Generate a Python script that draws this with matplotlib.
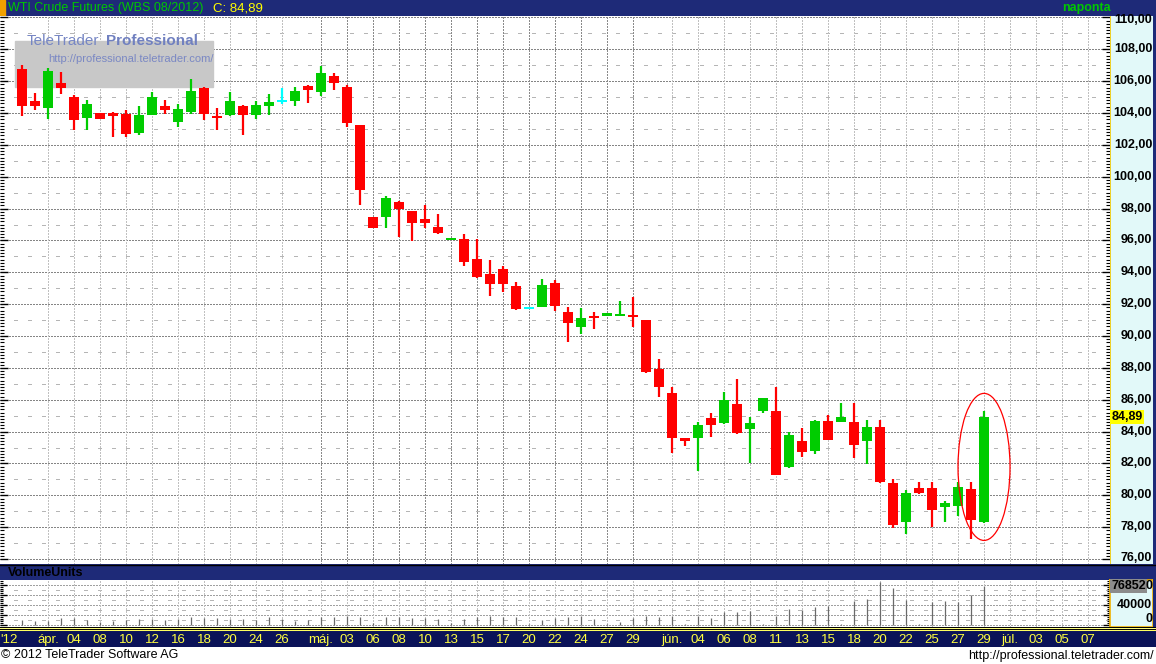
import matplotlib
matplotlib.use("Agg")
import matplotlib.pyplot as plt
from matplotlib.patches import Ellipse, Rectangle

plt.rcParams['font.family'] = ['Liberation Sans', 'DejaVu Sans']

# WTI Crude Futures (WBS 08/2012), napi gyertyák, olvasva a képről
opens = [106.76, 104.75, 104.33, 105.88, 105.00, 103.71, 104.00, 104.00, 103.94, 102.76,
         103.89, 104.44, 103.45, 104.08, 105.57, 103.83, 103.89, 104.44, 103.89, 104.46,
         104.75, 104.77, 105.70, 105.32, 106.32, 105.63, 103.25, 97.47, 97.47, 98.41,
         97.85, 97.35, 96.85, 96.03, 96.09, 94.84, 93.89, 94.21, 93.14, 91.75,
         91.82, 93.33, 91.51, 90.57, 91.26, 91.26, 91.26, 91.32, 91.00, 87.93,
         86.43, 83.60, 83.60, 84.86, 84.55, 85.74, 84.17, 85.30, 85.30, 81.78,
         83.41, 82.78, 84.67, 84.61, 84.61, 83.41, 84.30, 80.78, 78.33, 80.47,
         80.47, 79.28, 79.34, 80.40, 78.33]
highs = [107.00, 105.26, 106.80, 106.58, 105.13, 104.82, 104.00, 104.06, 104.19, 104.44,
         105.32, 104.82, 104.57, 106.14, 105.63, 104.31, 105.32, 104.50, 104.75, 105.19,
         105.57, 105.63, 105.76, 106.95, 106.51, 105.76, 103.25, 97.47, 98.79, 98.48,
         97.85, 98.23, 97.66, 96.15, 96.40, 96.09, 94.77, 94.40, 93.39, 91.75,
         93.58, 93.52, 91.82, 91.76, 91.51, 91.45, 92.20, 92.45, 91.00, 88.56,
         86.80, 83.60, 84.61, 85.17, 86.50, 87.31, 84.93, 86.12, 86.80, 83.98,
         84.23, 84.74, 85.05, 85.80, 85.80, 84.74, 84.74, 81.03, 80.34, 80.84,
         80.84, 79.66, 80.84, 80.84, 85.30]
lows = [103.83, 104.20, 103.62, 105.21, 102.95, 102.95, 103.64, 102.51, 102.51, 102.64,
        103.89, 103.96, 103.14, 103.96, 103.58, 102.95, 103.83, 102.64, 103.64, 103.89,
        104.58, 104.46, 104.65, 105.09, 105.45, 103.14, 98.25, 96.80, 96.80, 96.24,
        95.99, 96.80, 96.42, 96.03, 94.42, 93.64, 92.52, 92.77, 91.63, 91.75,
        91.82, 91.57, 89.62, 90.13, 90.45, 91.26, 91.26, 90.57, 87.68, 86.18,
        82.66, 83.10, 81.53, 83.67, 84.49, 83.86, 82.04, 85.17, 81.28, 81.72,
        82.41, 82.60, 83.48, 84.61, 82.35, 81.97, 80.78, 77.95, 77.57, 80.09,
        78.01, 78.33, 78.70, 77.26, 78.27]
closes = [104.46, 104.46, 106.64, 105.59, 103.58, 104.57, 103.64, 103.83, 102.70, 103.88,
          105.00, 104.21, 104.25, 105.38, 103.96, 103.71, 104.75, 103.89, 104.50, 104.69,
          104.75, 105.38, 105.45, 106.51, 105.88, 103.39, 99.17, 96.80, 98.67, 98.00,
          97.10, 97.10, 96.49, 96.15, 94.67, 93.71, 93.27, 93.27, 91.69, 91.75,
          93.20, 91.88, 90.84, 91.13, 91.13, 91.45, 91.39, 91.20, 87.74, 86.80,
          83.60, 83.41, 84.42, 84.42, 86.00, 83.92, 84.55, 86.12, 81.28, 83.80,
          82.72, 84.67, 83.48, 84.93, 83.16, 84.30, 80.84, 78.14, 80.15, 80.15,
          79.09, 79.53, 80.53, 78.45, 84.89]
volumes = [9300, 8000, 6700, 12700, 13300, 9300, 4700, 6700, 9300, 10700,
           11300, 9300, 11300, 14700, 12700, 12700, 11300, 11300, 9300, 14700,
           11300, 6700, 9300, 16000, 14700, 16700, 16000, 2700, 16000, 14700,
           12700, 12700, 11300, 2700, 11300, 14700, 18000, 14700, 14700, 2000,
           8700, 14000, 16000, 18000, 12000, 2000, 4700, 14000, 18000, 16000,
           16700, 2000, 16700, 14000, 24700, 24700, 27300, 2000, 18000, 32000,
           28700, 36000, 38000, 2000, 48000, 52000, 86000, 74000, 50000, 2000,
           44700, 48000, 46000, 60000, 76852]

date_labels = ["'12", "ápr.", "04", "08", "10", "12", "16", "18", "20", "24", "26",
               "máj.", "03", "06", "08", "10", "13", "15", "17", "20", "22", "24", "27", "29",
               "jún.", "04", "06", "08", "11", "13", "15", "18", "20", "22", "25", "27", "29",
               "júl.", "03", "05", "07"]
label_pos = [-1, 2, 4, 6, 8, 10, 12, 14, 16, 18, 20,
             23, 25, 27, 29, 31, 33, 35, 37, 39, 41, 43, 45, 47,
             50, 52, 54, 56, 58, 60, 62, 64, 66, 68, 70, 72, 74,
             76, 78, 80, 82]

W, H = 1156, 664
NAVY = '#1e2a78'
DARK_NAVY = '#0b1358'
PANEL = '#e2f9f9'

fig = plt.figure(figsize=(W / 100, H / 100), dpi=100)
fig.patch.set_facecolor('white')


def add_ax(x0, y0, x1, y1, **kw):
    ax = fig.add_axes([x0 / W, 1 - y1 / H, (x1 - x0) / W, (y1 - y0) / H], **kw)
    return ax


def bare(ax, color):
    ax.set_facecolor(color)
    ax.set_xticks([])
    ax.set_yticks([])
    for s in ax.spines.values():
        s.set_visible(False)
    return ax


def ftext(x, y, s, **kw):
    fig.text(x / W, 1 - y / H, s, **kw)


n = len(closes)
idx = list(range(n))
xlim = (-1.69, 83.69)

# ---- fejléc
hdr = bare(add_ax(0, 0, W, 16), NAVY)
hdr.add_patch(Rectangle((0, 0), 5 / W, 1, transform=hdr.transAxes, color='#f0a000'))
ftext(8, 8.5, "WTI Crude Futures (WBS 08/2012)", color='#00c800', fontsize=9, va='center')
ftext(213, 8.5, "C: 84,89", color='#ffff00', fontsize=9.5, va='center')
ftext(1062, 8.5, "naponta", color='#00c800', fontsize=9, va='center', fontweight='bold')

# ---- árfolyam panel
ax = add_ax(0, 16, 1110, 564)
ax.set_xlim(*xlim)
ax.set_ylim(75.69, 110.09)
for s in ax.spines.values():
    s.set_visible(False)
ax.set_xticks([])
ax.set_yticks(range(76, 111, 2))
ax.set_yticks([76 + 0.2 * k for k in range(171)], minor=True)
ax.tick_params(axis='y', which='both', direction='in', left=True, right=True,
               labelleft=False, labelright=False, color='black')
ax.tick_params(axis='y', which='major', length=6, width=1)
ax.tick_params(axis='y', which='minor', length=3, width=0.8)

for p in range(76, 111, 2):
    ax.axhline(p, color='#858585', lw=0.75, ls=(0, (1, 1)), antialiased=False, zorder=0)
for p in range(77, 111, 2):
    ax.axhline(p, color='#b5b5b5', lw=0.75, ls=(0, (3, 10)), antialiased=False, zorder=0)
grid_x = [x for x in label_pos if x >= 0]
for x in grid_x:
    c = '#8a8a8a' if 23 <= x <= 47 else '#c0c0c0'
    ax.axvline(x, color=c, lw=0.75, ls=(0, (1, 1)), antialiased=False, zorder=0)

# logó
ax.add_patch(Rectangle((15 / 1110, 1 - 71 / 548), 198 / 1110, 46 / 548,
                       transform=ax.transAxes, color='#c8c8c8', zorder=1))
ftext(27, 41, "TeleTrader", color='#7686c4', fontsize=11, va='center', zorder=5)
ftext(198, 41, "Professional", color='#7080c0', fontsize=11, va='center', ha='right',
      fontweight='bold', zorder=5)
ftext(48, 59, "http://professional.teletrader.com/", color='#7a88c4', fontsize=8,
      va='center', zorder=5)

colors = []
for o, c in zip(opens, closes):
    if c > o:
        colors.append('#00cc00')
    elif c < o:
        colors.append('#ff0000')
    else:
        colors.append('#00ffff')

min_h = 0.13
bottoms = []
heights = []
for o, c in zip(opens, closes):
    h = abs(c - o)
    b = min(o, c)
    if h < min_h:
        b = (o + c) / 2 - min_h / 2
        h = min_h
    bottoms.append(b)
    heights.append(h)

ax.vlines(idx, lows, highs, colors=colors, lw=1.6, zorder=3)
ax.bar(idx, heights, bottom=bottoms, width=0.72, color=colors, linewidth=0, zorder=4)

# utolsó gyertya bekarikázva
pad = 1.1
ax.add_patch(Ellipse((idx[-1], (highs[-1] + lows[-1]) / 2), 4.0,
                     highs[-1] - lows[-1] + 2 * pad, fill=False, ec='#ff0000', lw=0.9, zorder=6))

# jobb oldali skála
rax = add_ax(1110, 16, 1153, 564)
bare(rax, PANEL)
rax.set_xlim(0, 1)
rax.set_ylim(ax.get_ylim())
rax.axvline(0.01, color='#f0c800', lw=1.2)
lo, hi = ax.get_ylim()
for p in range(76, 111, 2):
    py = min(max(p, lo + 0.35), hi - 0.28)
    rax.text(0.98, py, f"{p},00", ha='right', va='center', fontsize=9,
             fontweight='bold', color='black')
rax.text(0.03, closes[-1], f"{closes[-1]:.2f}".replace('.', ','), ha='left', va='center',
         fontsize=9, fontweight='bold', color='black',
         bbox=dict(boxstyle='square,pad=0.08', fc='#ffff00', ec='none'))

# ---- volumen panel
vh = bare(add_ax(0, 564, W, 580), NAVY)
fig.add_artist(plt.Line2D([0, 1], [1 - 564.5 / H] * 2, color='black', lw=1))
ftext(8, 572.5, "VolumeUnits", color='black', fontsize=9, fontweight='bold', va='center')

vax = add_ax(0, 580, 1110, 627)
vax.set_xlim(*xlim)
vax.set_ylim(-5000, 89000)
for s in vax.spines.values():
    s.set_visible(False)
vax.set_xticks([])
vax.set_yticks(range(0, 90000, 20000))
vax.set_yticks(range(0, 90000, 4000), minor=True)
vax.tick_params(axis='y', which='both', direction='in', left=True, right=True,
                labelleft=False, labelright=False, color='black')
vax.tick_params(axis='y', which='major', length=5, width=1)
vax.tick_params(axis='y', which='minor', length=2.5, width=0.8)
for v in range(0, 90000, 20000):
    vax.axhline(v, color='#a0a0a0', lw=0.75, ls=(0, (1, 1)), antialiased=False, zorder=0)
for v in range(10000, 90000, 20000):
    vax.axhline(v, color='#b5b5b5', lw=0.75, ls=(0, (3, 10)), antialiased=False, zorder=0)
for x in grid_x:
    vax.axvline(x, color='#c0c0c0', lw=0.75, ls=(0, (1, 1)), antialiased=False, zorder=0)
vax.vlines(idx, 0, volumes, colors='#6a6a6a', lw=0.9, zorder=3)

vr = add_ax(1110, 580, 1153, 627)
bare(vr, PANEL)
vr.set_xlim(0, 1)
vr.set_ylim(vax.get_ylim())
for s in vr.spines.values():
    s.set_visible(True)
    s.set_color('#f0b000')
    s.set_linewidth(1.2)
# az utolsó érték dobozba kerül, alóla csak a 80000 utolsó nullája látszik
vr.text(0.03, volumes[-1], f"{volumes[-1]}", ha='left', va='center', fontsize=9,
        fontweight='bold', color='black',
        bbox=dict(boxstyle='square,pad=0.08', fc='#8c8c8c', ec='none'))
vr.text(0.98, volumes[-1], "0", ha='right', va='center', fontsize=9, fontweight='bold')
vr.text(0.98, 40000, "40000", ha='right', va='center', fontsize=9, fontweight='bold')
vr.text(0.98, 0, "0", ha='right', va='bottom', fontsize=9, fontweight='bold')

# jobb szegély
edge = bare(add_ax(1153, 16, W, 647), NAVY)

# ---- dátum tengely
sep = bare(add_ax(0, 627, W, 631), 'black')
fig.add_artist(plt.Line2D([0, 1], [1 - 628 / H] * 2, color='#ffff80', lw=0.75))
fig.add_artist(plt.Line2D([0, 1], [1 - 630.2 / H] * 2, color='#ffff60', lw=0.75))
xbar_bg = bare(add_ax(0, 631, W, 647), DARK_NAVY)
xbar = add_ax(0, 631, 1110, 647)
bare(xbar, DARK_NAVY)
xbar.set_xlim(*xlim)
xbar.set_ylim(0, 1)
for x, lab in zip(label_pos, date_labels):
    xbar.text(x, 0.45, lab, ha='center', va='center', color='#ffff40', fontsize=9.5)

# ---- lábléc
ftext(1, 655.5, "© 2012 TeleTrader Software AG", color='black', fontsize=9, va='center')
ftext(1154, 655.5, "http://professional.teletrader.com/", color='black', fontsize=9,
      va='center', ha='right')

fig.savefig("out.png", dpi=100, facecolor='white')
